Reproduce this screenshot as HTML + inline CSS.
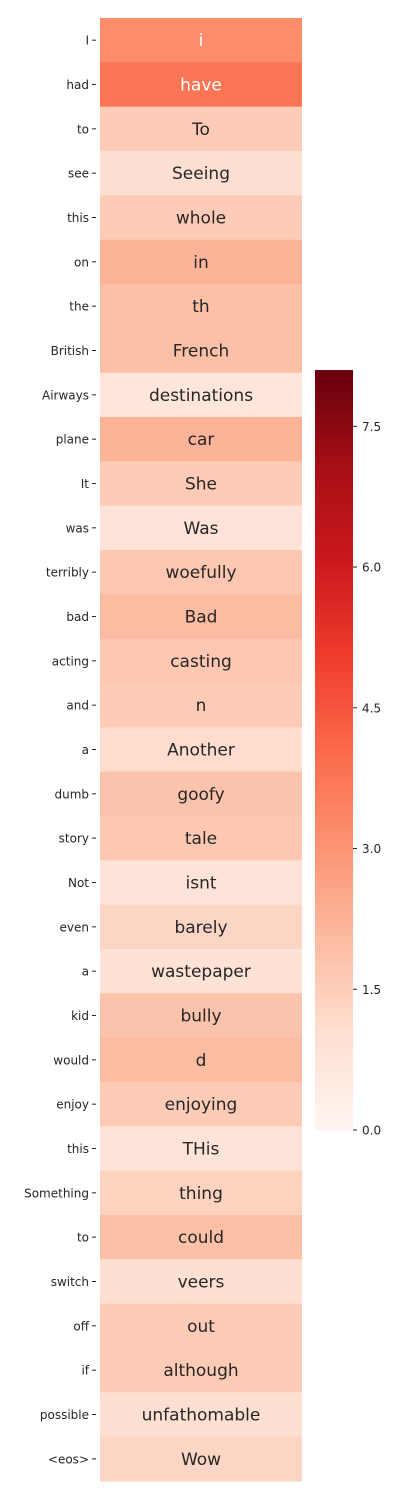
<!DOCTYPE html>
<html><head><meta charset="utf-8"><style>
html,body{margin:0;padding:0;background:#fff;}
svg{display:block;font-family:"DejaVu Sans","Liberation Sans",sans-serif;}
</style></head><body>
<svg id="chart" width="400" height="1500"></svg>
<script>
const rowLabelsFull=["I","had","to","see","this","on","the","British","Airways","plane","It","was","terribly","bad","acting","and","a","dumb","story","Not","even","a","kid","would","enjoy","this","Something","to","switch","off","if","possible","<eos>"];
const cellWords=["i","have","To","Seeing","whole","in","th","French","destinations","car","She","Was","woefully","Bad","casting","n","Another","goofy","tale","isnt","barely","wastepaper","bully","d","enjoying","THis","thing","could","veers","out","although","unfathomable","Wow"];
const values=[3.2,3.8,1.6,1.0,1.6,2.2,1.9,1.9,0.7,2.2,1.6,0.8,1.7,2.0,1.7,1.6,1.1,1.8,1.7,0.8,1.3,0.9,1.8,2.0,1.6,0.8,1.4,1.9,1.0,1.6,1.6,1.0,1.3];
const cbTicks=[0.0,1.5,3.0,4.5,6.0,7.5];
const vmin=0,vmax=8.1;
const NS="http://www.w3.org/2000/svg";
const svg=document.getElementById("chart");
const stops=[[255,245,240],[254,224,210],[252,187,161],[252,146,114],[251,106,74],[239,59,44],[203,24,29],[165,15,21],[103,0,13]];
function color(v){let t=Math.max(0,Math.min(1,(v-vmin)/(vmax-vmin)))*8;let i=Math.min(7,Math.floor(t)),f=t-i;const a=stops[i],b=stops[i+1];return `rgb(${a.map((c,k)=>Math.round(c+(b[k]-c)*f)).join(",")})`;}
function mk(tag,attrs){const e=document.createElementNS(NS,tag);for(const k in attrs)e.setAttribute(k,attrs[k]);svg.appendChild(e);return e;}
const nRows=rowLabelsFull.length;
const hmTop=18,hmBottom=1481,x0=100,x1=302;
const rh=(hmBottom-hmTop)/nRows;
function yRow(i){return hmTop+i*rh;}
for(let i=0;i<nRows;i++){
  const r=mk("rect",{x:x0,y:yRow(i),width:x1-x0,height:rh+0.5,fill:color(values[i])});
  
  
  const t=mk("text",{x:(x0+x1)/2,y:yRow(i)+rh/2+6,"text-anchor":"middle","font-size":"17",fill:values[i]>3?"#fff":"#262626"});
  t.textContent=cellWords[i];
  
  
  const l=mk("text",{x:89,y:yRow(i)+rh/2+4.5,"text-anchor":"end","font-size":"12",fill:"#262626"});
  l.textContent=rowLabelsFull[i];
  
  
  const tk=mk("line",{x1:92,x2:96,y1:yRow(i)+rh/2,y2:yRow(i)+rh/2,stroke:"#262626","stroke-width":"1"});
  
  
}
const cbx=315,cbw=38,cbTop=370,cbBot=1130;
function cbY(v){return cbBot-(v-vmin)/(vmax-vmin)*(cbBot-cbTop);}
const defs=mk("defs",{});
const g=document.createElementNS(NS,"linearGradient");
g.setAttribute("id","cbg");g.setAttribute("x1","0");g.setAttribute("y1","1");g.setAttribute("x2","0");g.setAttribute("y2","0");
defs.appendChild(g);
for(let k=0;k<=8;k++){const s=document.createElementNS(NS,"stop");s.setAttribute("offset",k/8);s.setAttribute("stop-color",`rgb(${stops[k].join(",")})`);g.appendChild(s);}
const cb=mk("rect",{x:cbx,y:cbTop,width:cbw,height:cbBot-cbTop,fill:"url(#cbg)"});


cbTicks.forEach(v=>{
  const y=cbY(v);
  const tk=mk("line",{x1:cbx+cbw,x2:cbx+cbw+4,y1:y,y2:y,stroke:"#262626","stroke-width":"1"});
  
  
  const t=mk("text",{x:cbx+cbw+9,y:y+4.5,"font-size":"12",fill:"#262626"});
  t.textContent=v.toFixed(1);
  
  
});
</script>
</body></html>
